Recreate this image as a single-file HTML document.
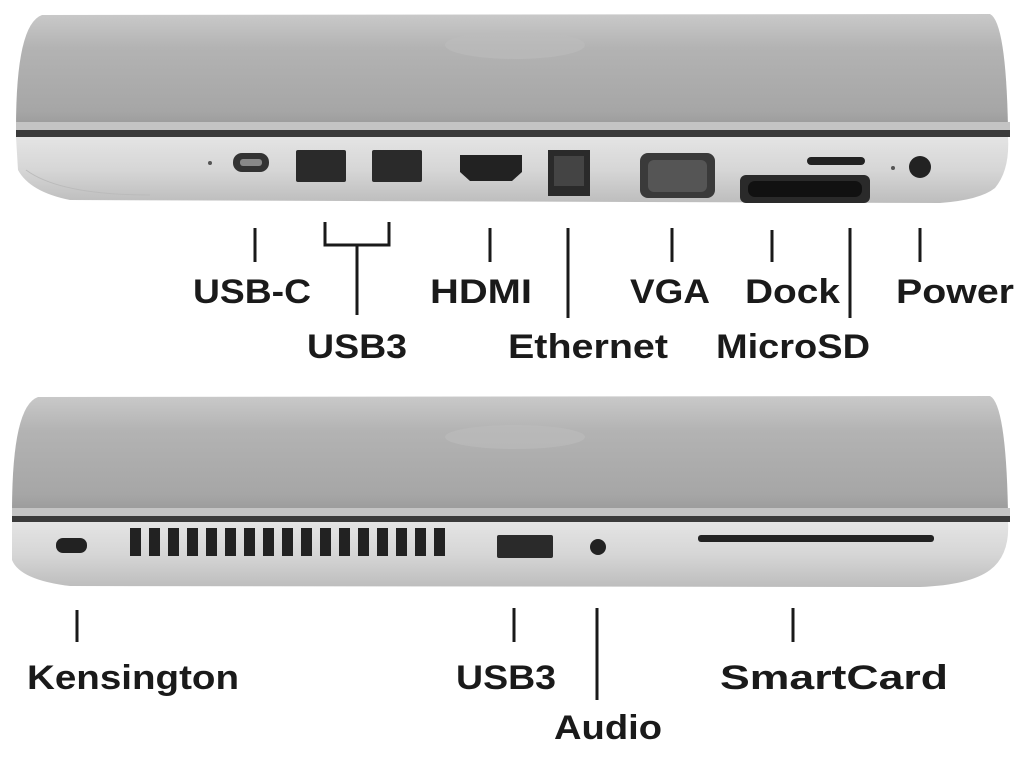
<!DOCTYPE html>
<html><head><meta charset="utf-8"><style>
html,body{margin:0;padding:0;background:#fff;width:1024px;height:761px;overflow:hidden}
svg{display:block}
text{font-family:"Liberation Sans",sans-serif;font-weight:bold;font-size:34px;fill:#1a1a1a}
</style></head><body>
<svg width="1024" height="761" viewBox="0 0 1024 761" xmlns="http://www.w3.org/2000/svg">
<defs>
<linearGradient id="lid" x1="0" y1="0" x2="0" y2="1">
<stop offset="0" stop-color="#c9c9c9"/><stop offset="0.3" stop-color="#b3b3b3"/><stop offset="0.85" stop-color="#a6a6a6"/><stop offset="1" stop-color="#9a9a9a"/></linearGradient>
<linearGradient id="base" x1="0" y1="0" x2="0" y2="1">
<stop offset="0" stop-color="#e4e4e4"/><stop offset="0.5" stop-color="#d6d6d6"/><stop offset="1" stop-color="#bdbdbd"/></linearGradient>
</defs>
<!-- TOP LAPTOP -->
<path d="M16,128 Q16,24 42,15 L990,14 Q1006,22 1008,128 Z" fill="url(#lid)"/>
<ellipse cx="515" cy="45" rx="70" ry="14" fill="#bdbdbd" opacity="0.6"/>
<rect x="16" y="122" width="994" height="8" fill="#c4c4c4"/>
<rect x="16" y="130" width="994" height="7" fill="#3a3a3a"/>
<path d="M16,137 L1008,137 Q1010,170 995,188 Q980,200 940,203 L70,200 Q30,192 18,170 Z" fill="url(#base)"/>
<path d="M26,170 Q60,195 150,195" stroke="#bbb" fill="none"/>
<circle cx="210" cy="163" r="2" fill="#555"/>
<rect x="233" y="153" width="36" height="19" rx="9" fill="#333"/><rect x="240" y="159" width="22" height="7" rx="3" fill="#888"/>
<rect x="296" y="150" width="50" height="32" rx="2" fill="#2a2a2a"/>
<rect x="372" y="150" width="50" height="32" rx="2" fill="#2a2a2a"/>
<path d="M460,155 L522,155 L522,172 L512,181 L470,181 L460,172 Z" fill="#222"/>
<rect x="548" y="150" width="42" height="46" fill="#2a2a2a"/><rect x="554" y="156" width="30" height="30" fill="#444"/>
<rect x="640" y="153" width="75" height="45" rx="8" fill="#3a3a3a"/><rect x="648" y="160" width="59" height="32" rx="6" fill="#555"/>
<rect x="740" y="175" width="130" height="28" rx="6" fill="#2a2a2a"/><rect x="748" y="181" width="114" height="16" rx="7" fill="#111"/>
<rect x="807" y="157" width="58" height="8" rx="4" fill="#222"/>
<circle cx="893" cy="168" r="2" fill="#555"/>
<circle cx="920" cy="167" r="11" fill="#222"/>
<g stroke="#1a1a1a" stroke-width="3" fill="none">
<line x1="255" y1="228" x2="255" y2="262"/>
<polyline points="325,222 325,245 389,245 389,222"/>
<line x1="357" y1="245" x2="357" y2="315"/>
<line x1="490" y1="228" x2="490" y2="262"/>
<line x1="568" y1="228" x2="568" y2="318"/>
<line x1="672" y1="228" x2="672" y2="262"/>
<line x1="772" y1="230" x2="772" y2="262"/>
<line x1="850" y1="228" x2="850" y2="318"/>
<line x1="920" y1="228" x2="920" y2="262"/>
</g>
<text x="193" y="303" textLength="118" lengthAdjust="spacingAndGlyphs">USB-C</text>
<text x="430" y="303" textLength="102" lengthAdjust="spacingAndGlyphs">HDMI</text>
<text x="630" y="303" textLength="80" lengthAdjust="spacingAndGlyphs">VGA</text>
<text x="745" y="303" textLength="95" lengthAdjust="spacingAndGlyphs">Dock</text>
<text x="896" y="303" textLength="118" lengthAdjust="spacingAndGlyphs">Power</text>
<text x="307" y="358" textLength="100" lengthAdjust="spacingAndGlyphs">USB3</text>
<text x="508" y="358" textLength="160" lengthAdjust="spacingAndGlyphs">Ethernet</text>
<text x="716" y="358" textLength="154" lengthAdjust="spacingAndGlyphs">MicroSD</text>
<!-- BOTTOM LAPTOP -->
<path d="M12,512 Q12,406 38,397 L990,396 Q1006,404 1008,512 Z" fill="url(#lid)"/>
<ellipse cx="515" cy="437" rx="70" ry="12" fill="#bdbdbd" opacity="0.6"/>
<rect x="12" y="508" width="998" height="8" fill="#c4c4c4"/>
<rect x="12" y="516" width="998" height="6" fill="#3a3a3a"/>
<path d="M12,522 L1008,522 Q1010,555 990,570 Q970,585 920,587 L70,586 Q20,580 12,560 Z" fill="url(#base)"/>
<rect x="56" y="538" width="31" height="15" rx="7" fill="#222"/>
<g fill="#222">
<rect x="130" y="528" width="11" height="28"/><rect x="149" y="528" width="11" height="28"/><rect x="168" y="528" width="11" height="28"/><rect x="187" y="528" width="11" height="28"/><rect x="206" y="528" width="11" height="28"/><rect x="225" y="528" width="11" height="28"/><rect x="244" y="528" width="11" height="28"/><rect x="263" y="528" width="11" height="28"/><rect x="282" y="528" width="11" height="28"/><rect x="301" y="528" width="11" height="28"/><rect x="320" y="528" width="11" height="28"/><rect x="339" y="528" width="11" height="28"/><rect x="358" y="528" width="11" height="28"/><rect x="377" y="528" width="11" height="28"/><rect x="396" y="528" width="11" height="28"/><rect x="415" y="528" width="11" height="28"/><rect x="434" y="528" width="11" height="28"/>
</g>
<rect x="497" y="535" width="56" height="23" rx="2" fill="#2a2a2a"/>
<circle cx="598" cy="547" r="8" fill="#222"/>
<rect x="698" y="535" width="236" height="7" rx="3" fill="#222"/>
<g stroke="#1a1a1a" stroke-width="3" fill="none">
<line x1="77" y1="610" x2="77" y2="642"/>
<line x1="514" y1="608" x2="514" y2="642"/>
<line x1="597" y1="608" x2="597" y2="700"/>
<line x1="793" y1="608" x2="793" y2="642"/>
</g>
<text x="27" y="689" textLength="212" lengthAdjust="spacingAndGlyphs">Kensington</text>
<text x="456" y="689" textLength="100" lengthAdjust="spacingAndGlyphs">USB3</text>
<text x="720" y="689" textLength="228" lengthAdjust="spacingAndGlyphs">SmartCard</text>
<text x="554" y="739" textLength="108" lengthAdjust="spacingAndGlyphs">Audio</text>
</svg>
</body></html>
